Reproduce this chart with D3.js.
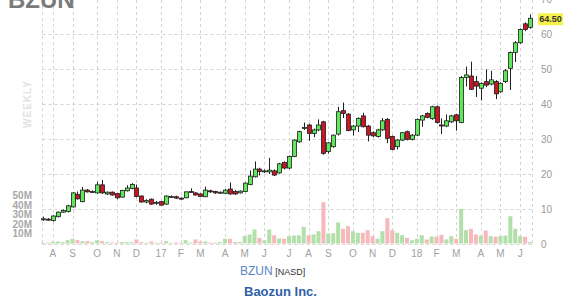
<!DOCTYPE html>
<html><head><meta charset="utf-8">
<script src="https://cdn.jsdelivr.net/npm/d3@7"></script>
<style>html,body{margin:0;padding:0;background:#fff;overflow:hidden}svg{display:block}</style>
</head><body><div id="chart"></div>
<script>
const ticker = "BZUN";
const exchange = "[NASD]";
const company = "Baozun Inc.";
const period = "WEEKLY";
const firstFriday = "2016-07-22";
const lastPrice = 64.50;
const priceTicks = [0, 10, 20, 30, 40, 50, 60, 70];
const volumeTicks = [10, 20, 30, 40, 50];
const open  = [6.9,7.1,6.7,7.8,9.1,9.3,10.6,14.2,12.1,15.4,14.9,14.6,16.9,14.3,14.8,14.4,13.4,15.2,15.9,16.0,
  13.7,12.0,12.8,11.7,12.1,11.4,13.5,13.5,13.1,13.2,14.9,14.6,14.3,13.5,15.2,15.0,14.6,14.5,15.7,15.0,
  14.6,15.0,17.0,19.2,21.4,20.8,20.6,20.9,20.3,23.3,21.7,25.0,29.2,33.0,34.0,31.6,32.6,34.9,26.4,27.8,
  31.4,38.1,37.1,32.6,33.7,36.6,33.7,31.8,30.7,32.6,35.6,30.7,27.8,29.7,32.1,29.9,31.1,35.4,37.3,35.8,
  39.2,34.0,33.7,34.9,36.9,34.7,47.6,48.0,46.4,44.5,46.4,45.7,46.4,43.5,46.4,50.2,54.7,57.5,62.9,61.9];
const high  = [7.8,7.4,8.2,9.3,9.9,11.2,14.8,15.0,16.3,15.7,15.3,17.8,18.3,15.0,15.0,14.6,15.5,16.8,17.4,17.0,
  13.9,12.8,13.0,12.3,12.3,13.9,13.9,13.8,13.3,15.0,15.9,14.8,14.5,16.4,15.5,15.2,15.0,15.7,17.6,15.4,
  15.3,17.6,21.0,23.6,21.8,21.3,24.6,21.3,23.2,23.6,25.3,29.9,32.4,34.7,34.4,33.0,35.6,35.2,29.1,31.3,
  39.2,40.4,37.4,34.0,36.2,37.5,34.0,32.2,32.9,36.0,36.0,31.0,30.0,32.0,32.4,31.4,35.9,36.9,37.6,39.5,
  39.6,35.9,37.0,36.9,37.2,48.0,50.7,52.1,48.0,46.2,49.9,49.5,46.8,46.2,50.0,55.0,58.0,61.6,63.3,65.6];
const low   = [6.6,6.7,6.4,7.6,8.9,9.0,10.4,12.7,11.9,14.7,14.6,14.4,14.3,14.0,13.8,12.8,13.2,15.0,15.6,13.3,
  11.8,11.6,11.2,11.2,11.0,11.2,13.2,12.9,12.7,13.1,14.6,13.8,13.4,13.4,14.6,14.3,14.3,14.3,14.1,14.0,
  14.4,14.8,16.8,19.0,19.6,20.3,20.0,19.4,20.1,21.3,21.4,24.8,28.9,32.6,29.5,30.5,32.2,25.5,25.8,27.5,
  31.0,36.0,32.2,31.0,32.0,33.3,29.3,30.5,30.4,32.3,28.8,26.8,27.0,29.4,29.6,29.6,30.8,33.5,35.9,35.5,
  34.4,31.4,33.4,34.6,32.4,34.5,45.0,44.0,42.0,41.0,44.8,45.3,41.4,43.2,46.0,44.0,52.0,57.2,60.8,61.5];
const close = [7.2,6.9,8.0,9.1,9.6,10.9,14.6,12.9,15.4,14.9,15.0,16.9,14.6,14.8,14.0,13.2,15.3,16.0,17.0,13.6,
  12.0,12.4,11.4,11.9,11.1,13.7,13.6,13.1,12.9,14.9,15.0,14.0,13.6,15.4,14.9,14.6,14.8,15.4,14.3,14.3,
  15.1,17.4,19.4,21.4,20.7,20.9,21.1,19.7,22.9,21.7,25.0,29.7,32.1,33.3,31.6,32.6,34.0,25.9,28.9,31.1,
  37.8,37.3,32.4,33.7,35.9,33.5,31.1,30.9,32.6,35.2,30.2,27.0,29.7,31.8,29.9,31.1,35.6,36.6,36.2,39.2,
  34.7,33.8,35.2,36.6,35.2,47.6,48.3,44.2,45.1,45.9,45.4,46.9,42.9,45.9,49.5,54.7,57.5,61.3,61.3,64.5];
const volumeM = [0.8,0.8,1.8,2.1,1.4,3.5,4.9,3.5,2.4,2.4,1.4,3.5,2.4,1.4,1.0,0.8,1.4,1.4,1.4,4.2,
  1.4,0.8,2.1,0.8,0.8,2.4,0.8,1.0,0.8,3.5,1.0,4.2,2.1,2.1,1.0,0.8,1.4,4.9,4.9,1.5,
  1.6,7.8,9.4,14.6,5.9,3.4,14.6,8.6,5.2,4.9,7.6,8.3,8.6,17.4,8.6,9.4,12.8,43.0,10.4,10.8,
  21.9,15.3,18.0,12.8,11.1,11.1,13.9,7.6,4.9,12.8,26.4,13.9,11.1,8.6,5.9,3.4,4.9,8.6,4.2,7.3,
  7.0,9.0,4.2,7.6,4.9,36.0,13.9,15.3,9.4,8.3,13.5,7.6,7.0,7.6,8.3,28.4,15.3,7.6,7.0,1.4];

(function () {
const W = 575, H = 301;
const svg = d3.select("#chart").append("svg").attr("width", W).attr("height", H);
const FONT = "'Liberation Sans', Arial, Helvetica, sans-serif";

const n = close.length;
const start = d3.timeParse("%Y-%m-%d")(firstFriday);
const dates = d3.range(n).map(i => d3.timeWeek.offset(start, i));

const gLeft = 42.5, gRight = 532.5;
const x = d3.scaleLinear().domain([0, n - 1]).range([43, 530]);
const y = d3.scaleLinear().domain([0, 70]).range([244, -1]);
const yv = d3.scaleLinear().domain([0, 50]).range([243.5, 195.5]);

const monthTicks = [];
for (let i = 1; i < n; i++) {
  if (dates[i].getMonth() !== dates[i - 1].getMonth()) {
    const d = dates[i];
    const lab = d.getMonth() === 0 ? d3.timeFormat("%y")(d) : d3.timeFormat("%b")(d).charAt(0);
    monthTicks.push({ i, lab });
  }
}

const grid = svg.append("g").attr("stroke", "#d4d4d4").attr("stroke-width", 1).attr("stroke-dasharray", "3,3");
priceTicks.forEach(t => {
  const yy = Math.round(y(t)) + 0.5;
  grid.append("line").attr("x1", gLeft).attr("x2", gRight).attr("y1", yy).attr("y2", yy);
});
[gLeft, gRight].concat(monthTicks.map(m => Math.round(x(m.i)) + 0.5)).forEach(xx => {
  grid.append("line").attr("x1", xx).attr("x2", xx).attr("y1", 0).attr("y2", 246);
});

svg.append("text").attr("x", 8).attr("y", 8).text(ticker)
  .attr("font-family", FONT).attr("font-size", 24).attr("font-weight", "bold").attr("fill", "#7a7a7a");

svg.append("text").attr("transform", "translate(31,104) rotate(-90)").attr("text-anchor", "middle")
  .text(period).attr("font-family", FONT).attr("font-size", 10).attr("font-weight", "bold")
  .attr("letter-spacing", 1).attr("fill", "#e2e2e2");

const up = i => close[i] >= open[i];
svg.append("g").selectAll("rect").data(d3.range(n)).join("rect")
  .attr("x", i => x(i) - 2).attr("width", 4)
  .attr("y", i => yv(volumeM[i])).attr("height", i => yv(0) - yv(volumeM[i]))
  .attr("fill", i => up(i) ? "#b2dfaa" : "#f6b8bb");

const cg = svg.append("g");
cg.selectAll("line").data(d3.range(n)).join("line")
  .attr("x1", i => Math.round(x(i)) + 0.5).attr("x2", i => Math.round(x(i)) + 0.5)
  .attr("y1", i => y(high[i])).attr("y2", i => y(low[i]))
  .attr("stroke", "#222").attr("stroke-width", 1);
cg.selectAll("rect").data(d3.range(n)).join("rect")
  .attr("x", i => Math.round(x(i)) - 1.5).attr("width", 4)
  .attr("y", i => y(Math.max(open[i], close[i])))
  .attr("height", i => Math.max(1, Math.abs(y(open[i]) - y(close[i]))))
  .attr("fill", i => up(i) ? "#5ee85a" : "#cc1424")
  .attr("stroke", "#1e1e1e").attr("stroke-width", 0.8);

svg.append("g").selectAll("text").data(priceTicks).join("text")
  .attr("x", 541).attr("y", d => y(d)).attr("dy", "0.35em").text(d => d)
  .attr("font-family", FONT).attr("font-size", 10).attr("fill", "#9a9a9a");

const ly = y(lastPrice) + 1;
svg.append("rect").attr("x", 538).attr("y", ly - 6).attr("width", 25).attr("height", 12).attr("fill", "#f7f24a");
svg.append("text").attr("x", 550.5).attr("y", ly).attr("dy", "0.35em").attr("text-anchor", "middle")
  .text(d3.format(".2f")(lastPrice)).attr("font-family", FONT).attr("font-size", 9).attr("font-weight", "bold").attr("fill", "#333");

svg.append("g").selectAll("text").data(volumeTicks).join("text")
  .attr("x", 32).attr("y", d => yv(d)).attr("dy", "0.35em").attr("text-anchor", "end").text(d => d + "M")
  .attr("font-family", FONT).attr("font-size", 10).attr("font-weight", "bold").attr("fill", "#a8a8a8");

svg.append("g").selectAll("text").data(monthTicks).join("text")
  .attr("x", m => x(m.i)).attr("y", 253).attr("dy", "0.35em").attr("text-anchor", "middle").text(m => m.lab)
  .attr("font-family", FONT).attr("font-size", 10).attr("fill", "#a0a0a0");

const t1 = svg.append("text").attr("x", 240).attr("y", 275).attr("font-family", FONT);
t1.append("tspan").text(ticker).attr("font-size", 12).attr("fill", "#5a86c4");
t1.append("tspan").text(" " + exchange).attr("font-size", 9).attr("fill", "#333");
svg.append("text").attr("x", 244).attr("y", 296).text(company)
  .attr("font-family", FONT).attr("font-size", 13).attr("font-weight", "bold").attr("fill", "#2f5fa8");
})();
</script></body></html>
